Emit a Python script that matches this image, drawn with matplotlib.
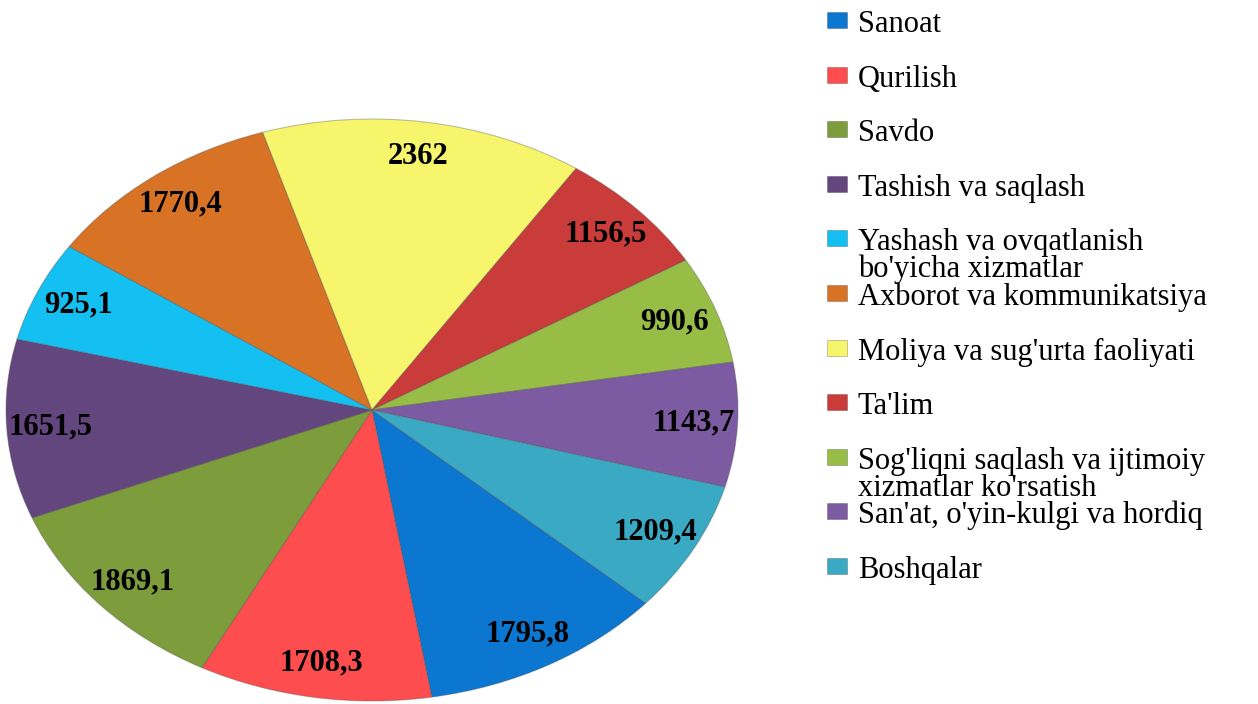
import matplotlib
matplotlib.use("Agg")
import matplotlib.pyplot as plt
import numpy as np
from matplotlib.patches import Rectangle

categories = [
    "Sanoat",
    "Qurilish",
    "Savdo",
    "Tashish va saqlash",
    "Yashash va ovqatlanish\nbo'yicha xizmatlar",
    "Axborot va kommunikatsiya",
    "Moliya va sug'urta faoliyati",
    "Ta'lim",
    "Sog'liqni saqlash va ijtimoiy\nxizmatlar ko'rsatish",
    "San'at, o'yin-kulgi va hordiq",
    "Boshqalar",
]
values = [1795.8, 1708.3, 1869.1, 1651.5, 925.1, 1770.4, 2362, 1156.5, 990.6, 1143.7, 1209.4]
value_labels = ["1795,8", "1708,3", "1869,1", "1651,5", "925,1", "1770,4",
                "2362", "1156,5", "990,6", "1143,7", "1209,4"]
colors = ["#0b77d0", "#fe4d4f", "#7d9c3b", "#64467f", "#14bff2", "#d87326",
          "#f6f56c", "#c93c3a", "#97bd46", "#7d5ba3", "#3aaac4"]

W, H = 1258, 704
fig = plt.figure(figsize=(W / 100, H / 100), dpi=100)

# axes covering the (horizontally stretched) ellipse
left, right, top, bottom = 6, 738, 119, 701
ax = fig.add_axes([left / W, (H - bottom) / H, (right - left) / W, (bottom - top) / H])
wedges, _ = ax.pie(values, colors=colors, startangle=318.4, counterclock=False,
                   radius=1.0,
                   wedgeprops=dict(edgecolor=(0.3, 0.3, 0.3, 0.35), linewidth=0.8))
ax.set_aspect("auto")
ax.set_xlim(-1, 1)
ax.set_ylim(-1, 1)
ax.axis("off")

for w, lab in zip(wedges, value_labels):
    ang = np.deg2rad((w.theta1 + w.theta2) / 2)
    r = 0.88
    ax.text(r * np.cos(ang), r * np.sin(ang), lab, ha="center", va="center",
            fontsize=22, fontweight="bold", family="Liberation Serif", color="black")

# legend drawn at figure pixel positions
base0, step, line_gap = 32, 54.6, 27
for i, (cat, col) in enumerate(zip(categories, colors)):
    b = base0 + step * i
    cy = b - 12
    fig.add_artist(Rectangle(((827) / W, (H - cy - 8) / H), 20 / W, 16 / H,
                             transform=fig.transFigure, facecolor=col,
                             edgecolor=(0, 0, 0, 0.25), linewidth=0.6))
    for j, line in enumerate(cat.split("\n")):
        fig.text(858 / W, (H - (b + j * line_gap)) / H, line, ha="left", va="baseline",
                 fontsize=22, family="Liberation Serif", color="black")

fig.savefig("out.png", dpi=100)
